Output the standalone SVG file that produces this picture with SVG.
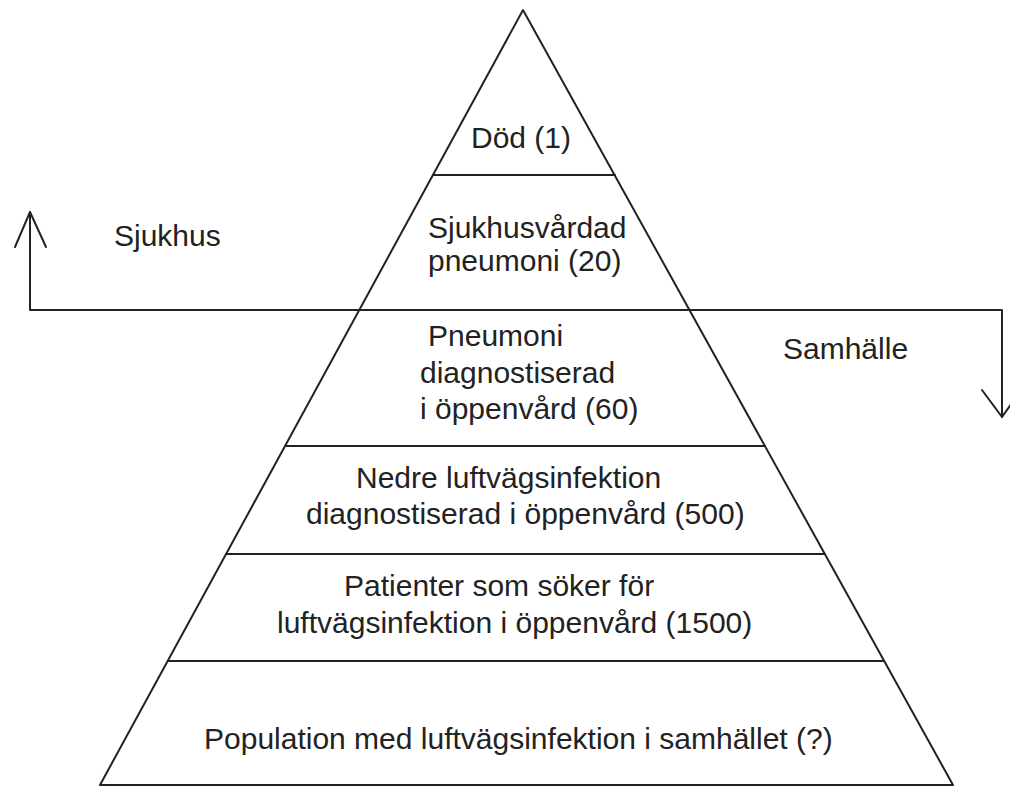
<svg xmlns="http://www.w3.org/2000/svg" width="1010" height="787" viewBox="0 0 1010 787">
<style>
.ln{stroke:#222;stroke-width:2;fill:none;stroke-linecap:round;stroke-linejoin:round}
.t{font-family:"Liberation Sans",Arial,sans-serif;font-size:30px;fill:#222}
</style>
<rect width="1010" height="787" fill="#fff"/>
<g id="pyramid">
<polygon class="ln" points="523,10 100,785 953,785"/>
<line class="ln" x1="433" y1="175" x2="615" y2="175"/>
<line class="ln" x1="286" y1="446" x2="765" y2="446"/>
<line class="ln" x1="226" y1="554" x2="825" y2="554"/>
<line class="ln" x1="168" y1="661" x2="884" y2="661"/>
</g>
<g id="connectors">
<polyline class="ln" points="30,212 30,310 1002,310 1002,417"/>
<polyline class="ln" points="15,247 30,212 46,247"/>
<polyline class="ln" points="982,390 1002,417 1012,403"/>
</g>
<g id="node-dod"><text class="t" x="471" y="148">Död (1)</text></g>
<g id="node-sjukhusvardad"><text class="t" x="428" y="238">Sjukhusvårdad</text><text class="t" x="428" y="271">pneumoni (20)</text></g>
<g id="node-pneumoni"><text class="t" x="428" y="346">Pneumoni</text><text class="t" x="420" y="383">diagnostiserad</text><text class="t" x="420" y="419">i öppenvård (60)</text></g>
<g id="node-nedre"><text class="t" x="356" y="488">Nedre luftvägsinfektion</text><text class="t" x="306" y="524">diagnostiserad i öppenvård (500)</text></g>
<g id="node-patienter"><text class="t" x="344" y="596">Patienter som söker för</text><text class="t" x="277" y="633">luftvägsinfektion i öppenvård (1500)</text></g>
<g id="node-population"><text class="t" x="204" y="749">Population med luftvägsinfektion i samhället (?)</text></g>
<g id="label-sjukhus"><text class="t" x="114" y="246">Sjukhus</text></g>
<g id="label-samhalle"><text class="t" x="783" y="359">Samhälle</text></g>
</svg>
